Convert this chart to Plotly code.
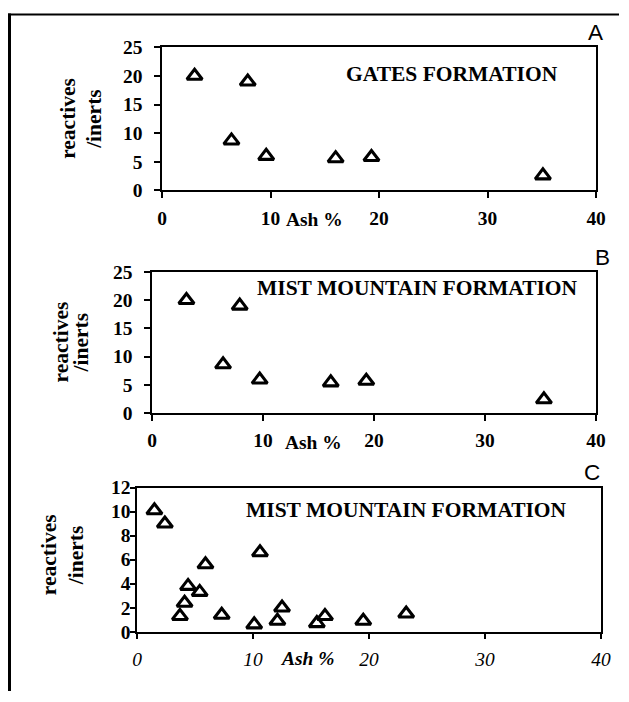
import plotly.graph_objects as go

# Ash content (%) and reactives/inerts ratio for each coal sample
gates_ash = [3.0, 7.9, 6.4, 9.6, 16.0, 19.3, 35.1]
gates_ratio = [20.0, 19.0, 8.7, 6.0, 5.6, 5.8, 2.6]

mist_b_ash = [3.1, 7.9, 6.4, 9.7, 16.1, 19.3, 35.3]
mist_b_ratio = [20.0, 19.0, 8.6, 5.9, 5.4, 5.7, 2.4]

mist_c_ash = [1.5, 2.4, 3.7, 4.1, 4.4, 5.4, 5.9, 7.3, 10.1, 10.6, 12.1, 12.5,
              15.5, 16.2, 19.5, 23.2]
mist_c_ratio = [10.1, 9.0, 1.3, 2.4, 3.8, 3.3, 5.6, 1.4, 0.6, 6.6, 0.9, 2.0,
                0.7, 1.3, 0.9, 1.5]

x_ticks = [0, 10, 20, 30, 40]
y_ticks_ab = [0, 5, 10, 15, 20, 25]
y_ticks_c = [0, 2, 4, 6, 8, 10, 12]

panel_titles = ["GATES FORMATION", "MIST MOUNTAIN FORMATION", "MIST MOUNTAIN FORMATION"]
panel_letters = ["A", "B", "C"]

W, H = 629, 702
# layout positions below are given in screen pixels; the page shows the
# figure slightly reduced and offset, so convert them to figure pixels
SCALE, OFFSET_X, OFFSET_Y = 0.976, 5.0, 7.5
K = 1 / SCALE
SERIF = "Liberation Serif"
SANS = "Liberation Sans"


def px(x):
    return (x - OFFSET_X) / SCALE / W


def py(y):
    return 1 - (y - OFFSET_Y) / SCALE / H


fig = go.Figure()

marker = dict(symbol="triangle-up-open", size=13 * K, color="black",
              line=dict(color="black", width=3 * K))

fig.add_trace(go.Scatter(x=gates_ash, y=gates_ratio, mode="markers",
                         marker=marker, xaxis="x", yaxis="y", showlegend=False))
fig.add_trace(go.Scatter(x=mist_b_ash, y=mist_b_ratio, mode="markers",
                         marker=marker, xaxis="x2", yaxis="y2", showlegend=False))
fig.add_trace(go.Scatter(x=mist_c_ash, y=mist_c_ratio, mode="markers",
                         marker=marker, xaxis="x3", yaxis="y3", showlegend=False))

tick_font = dict(family=SERIF, size=19 * K, color="black", weight="bold")
tick_font_it = dict(family=SERIF, size=19 * K, color="black", style="italic")


def xaxis(domain, anchor, font, standoff):
    return dict(domain=domain, anchor=anchor, range=[0, 40], tickvals=x_ticks,
                showline=True, mirror=True, linecolor="black", linewidth=1.5,
                ticks="outside", ticklen=6, tickwidth=1.5, tickcolor="black",
                showgrid=False, zeroline=False, tickfont=font,
                ticklabelstandoff=standoff, fixedrange=True)


def yaxis(domain, anchor, rng, vals, standoff, ticklen=6):
    return dict(domain=domain, anchor=anchor, range=rng, tickvals=vals,
                showline=True, mirror=True, linecolor="black", linewidth=1.5,
                ticks="outside", ticklen=ticklen, tickwidth=1.5, tickcolor="black",
                showgrid=False, zeroline=False, tickfont=tick_font,
                ticklabelstandoff=standoff, fixedrange=True)


fig.update_layout(
    width=W, height=H, margin=dict(l=0, r=0, t=0, b=0),
    paper_bgcolor="white", plot_bgcolor="white",
    xaxis=xaxis([px(162), px(596)], "y", tick_font, 3),
    yaxis=yaxis([py(189), py(45)], "x", [0, 25], y_ticks_ab, 8),
    xaxis2=xaxis([px(152), px(596)], "y2", tick_font, 3),
    yaxis2=yaxis([py(413), py(271)], "x2", [0, 25], y_ticks_ab, 8),
    xaxis3=xaxis([px(137), px(601)], "y3", tick_font_it, 3),
    yaxis3=yaxis([py(633), py(488)], "x3", [0, 12], y_ticks_c, -4, ticklen=5),
)

ann = []
label_font = dict(family=SERIF, size=21 * K, color="black", weight="bold")
axis_font = dict(family=SERIF, size=19 * K, color="black", weight="bold")
title_font = dict(family=SERIF, size=21 * K, color="black", weight="bold")
letter_font = dict(family=SANS, size=22 * K, color="black")


def note(text, x, y, font, angle=0):
    ann.append(dict(text=text, x=px(x), y=py(y), xref="paper", yref="paper",
                    xanchor="center", yanchor="middle", showarrow=False,
                    font=font, textangle=angle))


# panel titles
note(panel_titles[0], 452, 72, title_font)
note(panel_titles[1], 417, 287, title_font)
note(panel_titles[2], 406, 511, title_font)

# panel letters
note(panel_letters[0], 595, 30, letter_font)
note(panel_letters[1], 602, 257, letter_font)
note(panel_letters[2], 592, 473, letter_font)

# y-axis titles (two rotated lines)
for (x1, x2, yc) in [(68, 94, 117), (61, 81, 342), (49, 76, 556)]:
    note("reactives", x1, yc, label_font, -90)
    note("/inerts", x2, yc, label_font, -90)

# x-axis titles set between the 10 and 20 tick labels
note("Ash %", 314, 218, axis_font)
note("Ash %", 313, 443, axis_font)
note("Ash %", 307, 660, dict(family=SERIF, size=19 * K, color="black",
                              weight="bold", style="italic"))

fig.update_layout(annotations=ann)

# page frame: heavy rule down the left side and across the top
shapes = [
    dict(type="line", xref="paper", yref="paper", x0=px(9.5), x1=px(9.5),
         y0=py(11), y1=0, line=dict(color="black", width=3)),
    dict(type="line", xref="paper", yref="paper", x0=px(8), x1=1,
         y0=py(12), y1=py(12), line=dict(color="black", width=2)),
]
fig.update_layout(shapes=shapes)

fig.write_html("out.html")
